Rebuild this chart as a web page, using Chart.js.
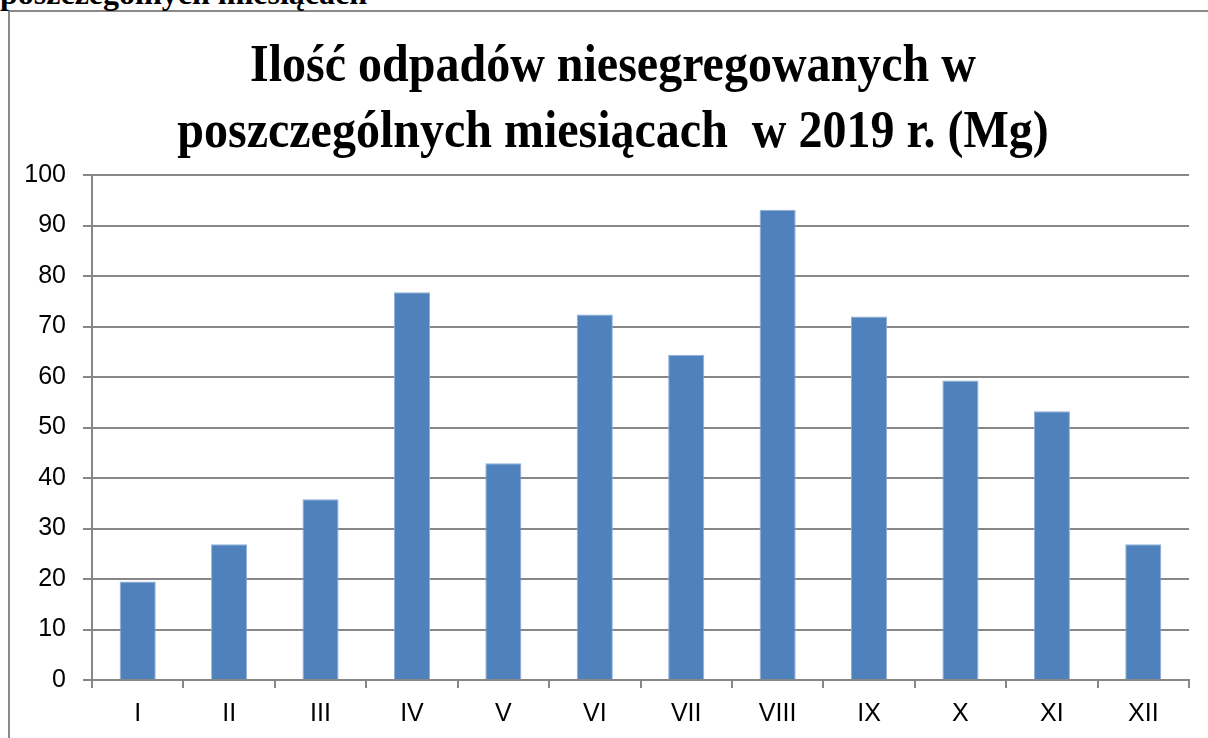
<!DOCTYPE html>
<html>
<head>
<meta charset="utf-8">
<script src="https://cdn.jsdelivr.net/npm/chart.js@4"></script>
<style>
  html, body { margin: 0; padding: 0; background: #fff; overflow: hidden; }
  #wrap { position: relative; width: 1208px; height: 738px; overflow: hidden; background: #fff; }
  #frame { position: absolute; left: 8px; top: 10px; width: 1300px; height: 800px; border: 2px solid #8a8a8a; box-sizing: border-box; }
  #topText { position: absolute; left: 0; top: -23px; font-family: "Liberation Serif", "Times New Roman", serif; font-weight: bold; font-size: 32px; line-height: 32px; white-space: pre; color: #000; }
  #title { position: absolute; left: 9px; width: 1208px; top: 30px; text-align: center; font-family: "Liberation Serif", "Times New Roman", serif; font-weight: bold; font-size: 48px; line-height: 60px; white-space: pre; color: #000; transform: scaleY(1.1); transform-origin: 50% 0; }
  canvas { position: absolute; left: 0; top: 0; }
</style>
</head>
<body>
<div id="wrap">
  <div id="frame"></div>
  <div id="topText">poszczególnych miesiącach</div>
  <canvas id="c" width="1208" height="738"></canvas>
  <div id="title">Ilość odpadów niesegregowanych w
poszczególnych miesiącach  w 2019 r. (Mg)</div>
</div>
<script>
const categories = ["I", "II", "III", "IV", "V", "VI", "VII", "VIII", "IX", "X", "XI", "XII"];
const values = [19.5, 26.9, 35.8, 76.8, 42.9, 72.4, 64.4, 93.1, 72.0, 59.3, 53.2, 26.9];
const yTicks = [0, 10, 20, 30, 40, 50, 60, 70, 80, 90, 100];

const gridColor = "#878787";
const tickFont = { family: "'Liberation Sans', Arial, sans-serif", size: 25 };

function draw() {
  new Chart(document.getElementById("c"), {
    type: "bar",
    data: {
      labels: categories,
      datasets: [{
        data: values,
        backgroundColor: "#4F81BD",
        borderColor: "#8DAFD8",
        borderWidth: 1,
        categoryPercentage: 1.0,
        barPercentage: 0.395
      }]
    },
    options: {
      responsive: false,
      animation: false,
      devicePixelRatio: 1,
      layout: { padding: { top: 175, left: 0, right: 19, bottom: 0 } },
      plugins: { legend: { display: false }, tooltip: { enabled: false }, title: { display: false } },
      scales: {
        x: {
          offset: true,
          grid: { offset: true, drawOnChartArea: false, drawTicks: true, tickLength: 8, color: gridColor, lineWidth: 2 },
          border: { display: true, color: gridColor, width: 2 },
          ticks: { color: "#000", font: tickFont, padding: 11, maxRotation: 0 },
          afterFit: (s) => { s.height = 58; }
        },
        y: {
          min: 0, max: 100,
          afterBuildTicks: (s) => { s.ticks = yTicks.map(v => ({ value: v })); },
          grid: { color: gridColor, lineWidth: 2, drawTicks: true, tickLength: 9 },
          border: { display: true, color: gridColor, width: 2 },
          ticks: { color: "#000", font: tickFont, padding: 17 },
          afterFit: (s) => { s.width = 92; }
        }
      }
    }
  });
}
draw();
</script>
</body>
</html>
